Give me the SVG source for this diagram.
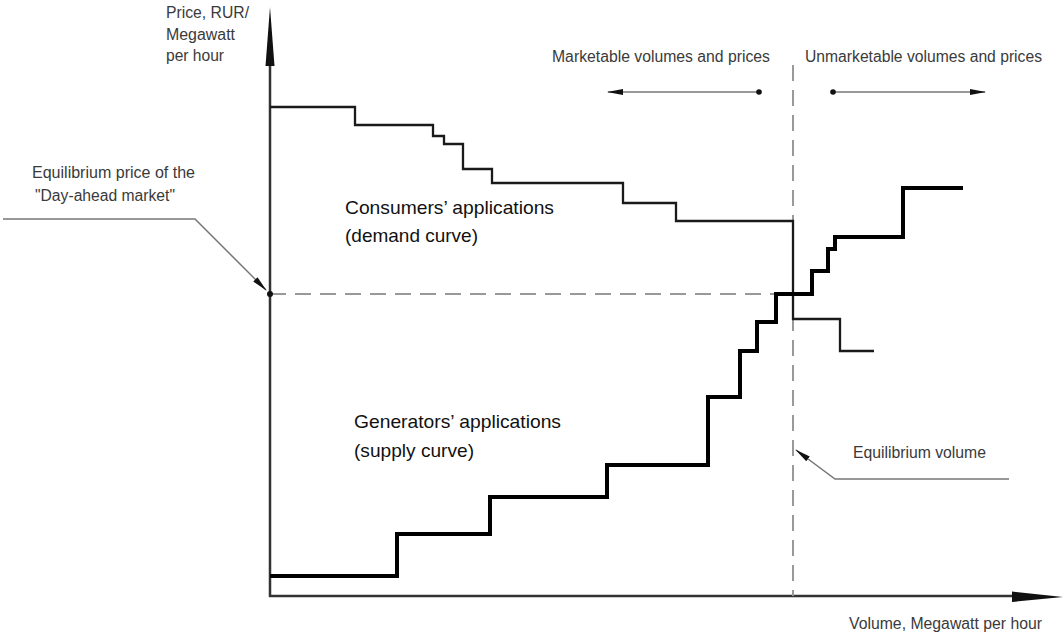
<svg xmlns="http://www.w3.org/2000/svg" width="1064" height="634" viewBox="0 0 1064 634">
<defs>
<style>
.lbl{font-family:"Liberation Sans",Arial,sans-serif;font-size:16px;fill:#3a3a3a}
.big{font-family:"Liberation Sans",Arial,sans-serif;font-size:18.5px;fill:#111}
.axis{stroke:#333;stroke-width:2.5;fill:none}
.dash{stroke:#999;stroke-width:2;fill:none;stroke-dasharray:16 9}
.lead{stroke:#777;stroke-width:1.5;fill:none}
.demand{stroke:#1a1a1a;stroke-width:2.3;fill:none}
.supply{stroke:#000;stroke-width:4;fill:none}
</style>
<marker id="lh" markerWidth="16" markerHeight="8" refX="15" refY="4" orient="auto" markerUnits="userSpaceOnUse">
<path d="M0,1 L16,4 L0,7 Z" fill="#111"/>
</marker>
</defs>
<rect width="1064" height="634" fill="#fff"/>
<g id="axes">
<line class="axis" x1="270" y1="597" x2="270" y2="60"/>
<path d="M270,7 L274.5,66 L265.5,66 Z" fill="#111"/>
<line class="axis" x1="269" y1="596" x2="1015" y2="596"/>
<path d="M1063,597 L1012,591.5 L1012,602 Z" fill="#111"/>
</g>
<g id="guides">
<line class="dash" x1="270" y1="294" x2="793" y2="294"/>
<line class="dash" x1="793" y1="65" x2="793" y2="596"/>
</g>
<g id="demand-curve">
<path class="demand" d="M270,107 H355 V125 H433 V136 H444 V144 H463 V169 H492 V183 H623 V203 H676 V221 H793 V319 H840 V351 H874"/>
</g>
<g id="supply-curve">
<path class="supply" d="M270,576 H397 V534 H490 V497 H607 V465 H708 V397 H740 V351 H757 V322 H776 V294 H812 V271 H828 V249 H835 V237 H903 V188 H963"/>
</g>
<g id="connectors">
<path class="lead" d="M3,219 H195 L266,290" marker-end="url(#lh)"/>
<circle cx="270" cy="294" r="3" fill="#111"/>
<path class="lead" d="M1009,479 H835 L796,450" marker-end="url(#lh)"/>
<line class="lead" x1="759" y1="92" x2="608" y2="92" marker-end="url(#lh)"/>
<circle cx="759" cy="92" r="2.8" fill="#111"/>
<line class="lead" x1="833" y1="92" x2="985" y2="92" marker-end="url(#lh)"/>
<circle cx="833" cy="92" r="2.8" fill="#111"/>
</g>
<g id="label-price">
<text class="lbl" x="166" y="18" textLength="83" lengthAdjust="spacingAndGlyphs">Price, RUR/</text>
<text class="lbl" x="166" y="40" textLength="69" lengthAdjust="spacingAndGlyphs">Megawatt</text>
<text class="lbl" x="166" y="61" textLength="58" lengthAdjust="spacingAndGlyphs">per hour</text>
</g>
<g id="label-eq-price">
<text class="lbl" x="32" y="178" textLength="163" lengthAdjust="spacingAndGlyphs">Equilibrium price of the</text>
<text class="lbl" x="35" y="201" textLength="140" lengthAdjust="spacingAndGlyphs">"Day-ahead market"</text>
</g>
<g id="label-consumers">
<text class="big" x="345" y="214" textLength="209" lengthAdjust="spacingAndGlyphs">Consumers’ applications</text>
<text class="big" x="345" y="242" textLength="133" lengthAdjust="spacingAndGlyphs">(demand curve)</text>
</g>
<g id="label-generators">
<text class="big" x="354" y="428" textLength="207" lengthAdjust="spacingAndGlyphs">Generators’ applications</text>
<text class="big" x="354" y="457" textLength="120" lengthAdjust="spacingAndGlyphs">(supply curve)</text>
</g>
<g id="label-marketable">
<text class="lbl" x="552" y="62" textLength="218" lengthAdjust="spacingAndGlyphs">Marketable volumes and prices</text>
</g>
<g id="label-unmarketable">
<text class="lbl" x="805" y="62" textLength="237" lengthAdjust="spacingAndGlyphs">Unmarketable volumes and prices</text>
</g>
<g id="label-eq-volume">
<text class="lbl" x="853" y="458" textLength="133" lengthAdjust="spacingAndGlyphs">Equilibrium volume</text>
</g>
<g id="label-volume">
<text class="lbl" x="849" y="629" textLength="193" lengthAdjust="spacingAndGlyphs">Volume, Megawatt per hour</text>
</g>
</svg>
